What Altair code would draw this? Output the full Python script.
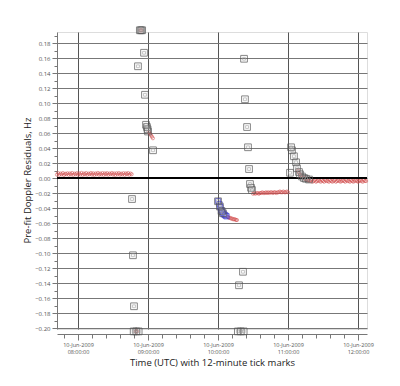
import altair as alt
import pandas as pd

DATE_LABEL = "10-Jun-2009"
hour_ticks = [480, 540, 600, 660, 720]
hour_labels = ["08:00:00", "09:00:00", "10:00:00", "11:00:00", "12:00:00"]
minor_ticks = [468, 480, 492, 504, 516, 528, 540, 552, 564, 576, 588, 600, 612,
               624, 636, 648, 660, 672, 684, 696, 708, 720]
y_ticks = [-0.20, -0.18, -0.16, -0.14, -0.12, -0.10, -0.08, -0.06, -0.04, -0.02,
           0.00, 0.02, 0.04, 0.06, 0.08, 0.10, 0.12, 0.14, 0.16, 0.18]
y_minor = [round(v + 0.01, 2) for v in y_ticks]

# time in minutes after 00:00 UTC, residual in Hz
red_t = [462, 463, 464, 465, 466, 467, 468, 469, 470, 471, 472, 473, 474, 475, 476,
         477, 478, 479, 480, 481, 482, 483, 484, 485, 486, 487, 488, 489, 490, 491,
         492, 493, 494, 495, 496, 497, 498, 499, 500, 501, 502, 503, 504, 505, 506,
         507, 508, 509, 510, 511, 512, 513, 514, 515, 516, 517, 518, 519, 520, 521,
         522, 523, 524, 525, 526,
         529.5, 530.5, 533.5, 534.5,
         541.0, 541.8, 542.6, 543.4, 544.2,
         608.6, 609.4, 610.3, 611.1, 612.0, 612.9, 613.7, 614.6, 615.4, 616.3,
         630, 631, 632, 633, 634, 635, 636, 637, 638, 639, 640, 641, 642, 643, 644,
         645, 646, 647, 648, 649, 650, 651, 652, 653, 654, 655, 656, 657, 658, 659, 660,
         668.6, 669.4, 670.3, 671.1, 672.0, 672.9, 673.7, 674.6, 675.4, 676.3, 677.1,
         678, 679, 680, 681, 682, 683, 684, 685, 686, 687, 688, 689, 690, 691, 692,
         693, 694, 695, 696, 697, 698, 699, 700, 701, 702, 703, 704, 705, 706, 707,
         708, 709, 710, 711, 712, 713, 714, 715, 716, 717, 718, 719, 720, 721, 722,
         723, 724, 725, 726, 727]
red_v = [0.0045, 0.0065, 0.0042, 0.0060, 0.0048, 0.0066, 0.0040, 0.0058, 0.0050, 0.0064,
         0.0043, 0.0061, 0.0047, 0.0067, 0.0041, 0.0059, 0.0049, 0.0065, 0.0044, 0.0062,
         0.0046, 0.0068, 0.0042, 0.0060, 0.0048, 0.0066, 0.0043, 0.0059, 0.0050, 0.0067,
         0.0045, 0.0063, 0.0041, 0.0061, 0.0049, 0.0068, 0.0044, 0.0060, 0.0047, 0.0066,
         0.0042, 0.0062, 0.0048, 0.0065, 0.0043, 0.0060, 0.0050, 0.0067, 0.0045, 0.0061,
         0.0041, 0.0064, 0.0048, 0.0066, 0.0044, 0.0059, 0.0047, 0.0065, 0.0042, 0.0062,
         0.0049, 0.0066, 0.0043, 0.0060, 0.0050,
         -0.2045, -0.2045, 0.197, 0.197,
         0.061, 0.059, 0.057, 0.055, 0.053,
         -0.052, -0.053, -0.053, -0.054, -0.054, -0.055, -0.055, -0.055, -0.056, -0.056,
         -0.021, -0.020, -0.021, -0.020, -0.020, -0.021, -0.020, -0.020, -0.019, -0.020,
         -0.020, -0.019, -0.020, -0.019, -0.020, -0.019, -0.019, -0.020, -0.019, -0.019,
         -0.020, -0.019, -0.019, -0.018, -0.019, -0.019, -0.018, -0.019, -0.019, -0.018, -0.019,
         0.010, 0.007, 0.005, 0.003, 0.002, 0.001, 0.000, -0.001, -0.002, -0.002, -0.003,
         -0.003, -0.004, -0.003, -0.005, -0.004, -0.003, -0.005, -0.004, -0.003, -0.004,
         -0.005, -0.003, -0.004, -0.005, -0.003, -0.004, -0.004, -0.005, -0.003, -0.004,
         -0.005, -0.004, -0.003, -0.005, -0.004, -0.003, -0.004, -0.005, -0.004, -0.003,
         -0.004, -0.005, -0.003, -0.004, -0.004, -0.005, -0.003, -0.004, -0.005, -0.004,
         -0.003, -0.004, -0.005, -0.004, -0.003, -0.004, -0.005, -0.003, -0.004, -0.004]

blue_t = [600.0, 601.3, 602.1, 603.0, 603.9, 604.7, 605.6, 606.4, 607.3]
blue_v = [-0.031, -0.035, -0.039, -0.043, -0.046, -0.048, -0.049, -0.050, -0.051]

sq_t = [526.3, 527.1, 528.0, 527.7, 530.0, 532.0, 531.4, 533.0, 534.0, 535.0,
        536.6, 537.4, 538.3, 539.1, 539.6, 540.0, 544.3,
        600.0, 601.6, 603.0, 604.2,
        617.0, 619.5, 622.0, 618.0, 621.4, 622.3, 623.1, 624.9, 625.7, 626.6,
        627.4, 628.3, 629.1,
        661.7, 662.6, 663.4, 665.1, 666.9, 667.7, 669.4, 670.3, 672.0, 673.7,
        675.4, 678.0]
sq_v = [-0.028, -0.103, -0.171, -0.2045, -0.2045, -0.2045, 0.149, 0.197, 0.197, 0.197,
        0.167, 0.111, 0.071, 0.068, 0.065, 0.062, 0.037,
        -0.031, -0.038, -0.044, -0.047,
        -0.2045, -0.2045, -0.2045, -0.143, -0.125, 0.159, 0.105, 0.068, 0.041, 0.012,
        -0.008, -0.013, -0.016,
        0.007, 0.041, 0.037, 0.029, 0.021, 0.013, 0.008, 0.005, 0.002, 0.000,
        -0.001, -0.002]

n = min(len(red_t), len(red_v))
red = pd.DataFrame({"t": red_t[:n], "v": red_v[:n]})
blue = pd.DataFrame({"t": blue_t, "v": blue_v})
sq = pd.DataFrame({"t": sq_t, "v": sq_v})
zero = pd.DataFrame({"v": [0.0]})

label_expr = "''"
for m, lab in reversed(list(zip(hour_ticks, hour_labels))):
    label_expr = f"datum.value == {m} ? ['{DATE_LABEL}', '{lab}'] : {label_expr}"

FONT = "Open Sans"
Y_MAJOR = "abs(datum.value * 50 - round(datum.value * 50)) < 0.01"

x_enc = alt.X(
    "t:Q",
    scale=alt.Scale(domain=[462, 727.7], nice=False, zero=False),
    axis=alt.Axis(
        values=minor_ticks, tickCount=100,
        labelExpr=label_expr,
        labelFont=FONT, labelFontSize=5.5, labelColor="#555",
        labelLineHeight=7, labelPadding=2, labelFlush=False, labelOverlap=False,
        tickSize={"condition": {"test": "datum.value % 60 == 0", "value": 6}, "value": 4},
        tickColor="#777", domainColor="#777", offset=5,
        gridColor="#555",
        gridOpacity={"condition": {"test": "datum.value % 60 == 0", "value": 1}, "value": 0},
        title="Time (UTC) with 12-minute tick marks",
        titleFont=FONT, titleFontSize=9.5, titleFontWeight="normal", titleColor="#222",
        titleY=28, titleBaseline="middle",
    ),
)
y_enc = alt.Y(
    "v:Q",
    scale=alt.Scale(domain=[-0.2013, 0.1947], nice=False, zero=False),
    axis=alt.Axis(
        values=sorted(y_ticks + y_minor), tickCount=100, labelOverlap=False,
        labelExpr=f"{Y_MAJOR} ? format(datum.value, '.2f') : ''",
        labelFont=FONT, labelFontSize=6, labelColor="#555", labelPadding=2,
        tickSize={"condition": {"test": Y_MAJOR, "value": 5}, "value": 3},
        tickColor="#777", domain=True, domainColor="#777",
        gridColor="#777",
        gridOpacity={"condition": {"test": Y_MAJOR, "value": 1}, "value": 0},
        title="Pre-fit Doppler Residuals, Hz",
        titleFont=FONT, titleFontSize=9.5, titleFontWeight="normal", titleColor="#222",
        titleX=-30, titleY=148, titleAlign="center", titleBaseline="middle",
    ),
)

rule = alt.Chart(zero).mark_rule(color="black", strokeWidth=2).encode(y=alt.Y("v:Q"))
red_pts = alt.Chart(red).mark_point(shape="circle", filled=False, size=10,
                                    strokeWidth=0.8, color="#d24b4b").encode(x=x_enc, y=y_enc)
blue_pts = alt.Chart(blue).mark_point(shape="square", filled=False, size=28,
                                      strokeWidth=1, color="#3a3ad0").encode(x="t:Q", y="v:Q")
sq_pts = alt.Chart(sq).mark_point(shape="square", filled=False, size=45,
                                  strokeWidth=1, color="#555").encode(x="t:Q", y="v:Q")
sq_in = alt.Chart(sq).mark_point(shape="square", filled=False, size=8,
                                 strokeWidth=0.8, color="#999").encode(x="t:Q", y="v:Q")

chart = alt.layer(red_pts, rule, blue_pts, sq_pts, sq_in).properties(
    width=310, height=297,
    padding={"left": 49, "top": 24, "right": 25, "bottom": 49},
    autosize=alt.AutoSizeParams(type="none"),
).configure_view(stroke="#888", strokeWidth=1).configure(background="white")

chart.save("out.html", embed_options={"renderer": "svg", "actions": False})
